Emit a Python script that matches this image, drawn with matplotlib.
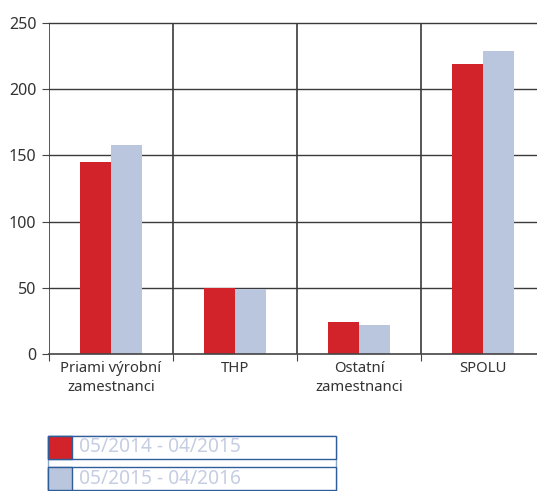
import numpy as np
import matplotlib.pyplot as plt
from matplotlib.patches import Rectangle

# data
categories = ["Priami výrobní\nzamestnanci", "THP", "Ostatní\nzamestnanci", "SPOLU"]
series_2015 = [145, 50, 24, 219]
series_2016 = [158, 49, 22, 229]
legend_labels = ["05/2014 - 04/2015", "05/2015 - 04/2016"]
colors = ["#D2232A", "#BAC5DE"]

plt.rcParams['font.family'] = ['Noto Sans', 'DejaVu Sans']

fig = plt.figure(figsize=(5.37, 4.91), dpi=100)
ax = fig.add_axes([49 / 537, 137 / 491, 488 / 537, 331 / 491])

x = np.arange(len(categories))
w = 0.25
ax.bar(x - w / 2, series_2015, width=w, color=colors[0], zorder=3)
ax.bar(x + w / 2, series_2016, width=w, color=colors[1], zorder=3)

ax.set_ylim(0, 250)
ax.set_xlim(-0.5, -0.5 + 488 / 124)

# grid
for yv in [50, 100, 150, 200, 250]:
    ax.axhline(yv, color="#3a3a3a", lw=1.0, zorder=1, clip_on=False)
for xv in np.arange(len(categories)) - 0.5:
    ax.axvline(xv, color="#3a3a3a", lw=1.2, zorder=2)

for s in ["top", "right", "left"]:
    ax.spines[s].set_visible(False)
ax.spines["bottom"].set_color("#444444")
ax.spines["bottom"].set_linewidth(1.2)
ax.spines["bottom"].set_zorder(4)

ax.set_yticks([0, 50, 100, 150, 200, 250])
ax.tick_params(axis="y", length=5, color="#444444", labelsize=11.5, labelcolor="#333333", pad=4)

ax.set_xticks(np.arange(len(categories)) - 0.5)
ax.set_xticklabels([])
ax.tick_params(axis="x", length=5, color="#444444")
ax.set_xticks(x, minor=True)
ax.set_xticklabels(categories, minor=True, fontsize=10.7, color="#333333", linespacing=1.35)
ax.tick_params(axis="x", which="minor", length=0, pad=5)

# legend boxes
fig_h = 491
fig.patches.append(Rectangle((48 / 537, (fig_h - 491) / fig_h), 288 / 537, 55 / fig_h,
                             transform=fig.transFigure, facecolor="white",
                             edgecolor="#8FA8C6", lw=1.0))
rows = [(436, 459), (467, 490)]
for (top, bot), lab, c in zip(rows, legend_labels, colors):
    y0 = (fig_h - bot) / fig_h
    h = (bot - top) / fig_h
    fig.patches.append(Rectangle((48 / 537, y0), 288 / 537, h, transform=fig.transFigure,
                                 facecolor="white", edgecolor="#2E5E9A", lw=1.0))
    fig.patches.append(Rectangle((48 / 537, y0), 24 / 537, h, transform=fig.transFigure,
                                 facecolor=c, edgecolor="#2E5E9A", lw=1.0))
    fig.text(79 / 537, y0 + h / 2, lab, fontsize=13.8, color="#C5CDE2", va="center", ha="left")

fig.savefig("out.png", dpi=100)
